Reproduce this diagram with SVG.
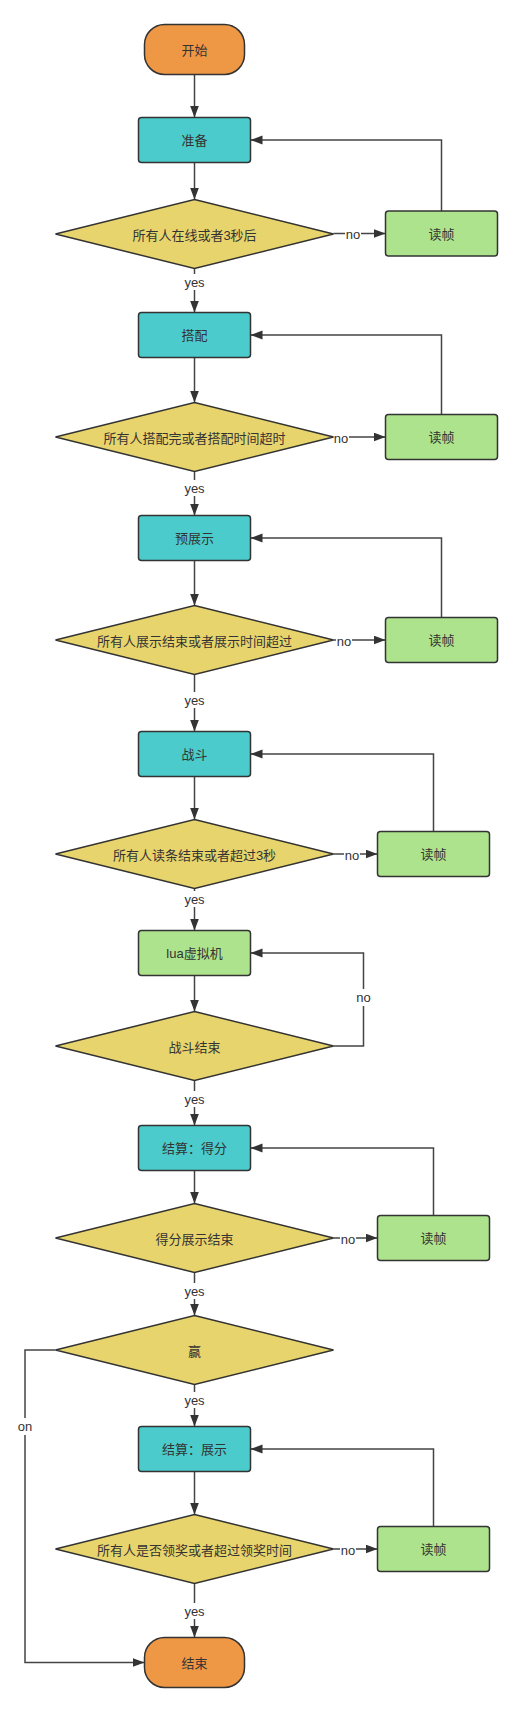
<svg xmlns="http://www.w3.org/2000/svg" width="522" height="1713" viewBox="0 0 522 1713">
<style>
text{font-family:"Liberation Sans","Noto Sans CJK SC",sans-serif;font-size:13px;fill:#333;text-anchor:middle;dominant-baseline:central}
.term{fill:#EE9845;stroke:#333;stroke-width:1.5}
.proc{fill:#4BCBCB;stroke:#333;stroke-width:1.5}
.lua{fill:#ADE38C;stroke:#333;stroke-width:1.5}
.dec{fill:#E8D46C;stroke:#333;stroke-width:1.5}
.read{fill:#ADE38C;stroke:#333;stroke-width:1.5}
.edge{fill:none;stroke:#444;stroke-width:1.5}
.lbg{fill:#fff;stroke:none}
</style>
<defs>
<marker id="arr" markerUnits="userSpaceOnUse" markerWidth="12" markerHeight="10" refX="12" refY="4.5" orient="auto">
<path d="M0,0 L12,4.5 L0,9 z" fill="#333"/>
</marker>
</defs>
<rect width="522" height="1713" fill="#fff"/>
<g id="connectors">
<path class="edge" marker-end="url(#arr)" d="M194.5,74.5 V117.5"/>
<path class="edge" marker-end="url(#arr)" d="M194.5,162.5 V199.5"/>
<path class="edge" marker-end="url(#arr)" d="M194.5,268.5 V312.5"/>
<path class="edge" marker-end="url(#arr)" d="M333.5,233.5 H385.5"/>
<path class="edge" marker-end="url(#arr)" d="M441.5,211 V140 H250.5"/>
<path class="edge" marker-end="url(#arr)" d="M194.5,357.5 V402.5"/>
<path class="edge" marker-end="url(#arr)" d="M333.5,437 H385.5"/>
<path class="edge" marker-end="url(#arr)" d="M441.5,414.5 V335 H250.5"/>
<path class="edge" marker-end="url(#arr)" d="M194.5,471.5 V515.5"/>
<path class="edge" marker-end="url(#arr)" d="M194.5,560.5 V605.5"/>
<path class="edge" marker-end="url(#arr)" d="M333.5,640 H385.5"/>
<path class="edge" marker-end="url(#arr)" d="M441.5,617.5 V538 H250.5"/>
<path class="edge" marker-end="url(#arr)" d="M194.5,674.5 V731.5"/>
<path class="edge" marker-end="url(#arr)" d="M194.5,776.5 V819.5"/>
<path class="edge" marker-end="url(#arr)" d="M333.5,854 H377.5"/>
<path class="edge" marker-end="url(#arr)" d="M433.5,831.5 V754 H250.5"/>
<path class="edge" marker-end="url(#arr)" d="M194.5,888.5 V930.5"/>
<path class="edge" marker-end="url(#arr)" d="M194.5,975.5 V1011.5"/>
<path class="edge" marker-end="url(#arr)" d="M333.5,1046 H363.5 V953 H250.5"/>
<path class="edge" marker-end="url(#arr)" d="M194.5,1080.5 V1125.5"/>
<path class="edge" marker-end="url(#arr)" d="M194.5,1170.5 V1203.5"/>
<path class="edge" marker-end="url(#arr)" d="M333.5,1238 H377.5"/>
<path class="edge" marker-end="url(#arr)" d="M433.5,1215.5 V1148 H250.5"/>
<path class="edge" marker-end="url(#arr)" d="M194.5,1272.5 V1315.5"/>
<path class="edge" marker-end="url(#arr)" d="M194.5,1384.5 V1426.5"/>
<path class="edge" marker-end="url(#arr)" d="M55.5,1350 H25 V1662.5 H144.5"/>
<path class="edge" marker-end="url(#arr)" d="M194.5,1471.5 V1514.5"/>
<path class="edge" marker-end="url(#arr)" d="M333.5,1549 H377.5"/>
<path class="edge" marker-end="url(#arr)" d="M433.5,1526.5 V1449 H250.5"/>
<path class="edge" marker-end="url(#arr)" d="M194.5,1583.5 V1637.5"/>
<g id="edge-labels">
<rect class="lbg" x="182" y="274" width="25" height="16"/><text x="194.5" y="282">yes</text>
<rect class="lbg" x="182" y="480" width="25" height="16"/><text x="194.5" y="488">yes</text>
<rect class="lbg" x="182" y="692" width="25" height="16"/><text x="194.5" y="700">yes</text>
<rect class="lbg" x="182" y="891" width="25" height="16"/><text x="194.5" y="899">yes</text>
<rect class="lbg" x="182" y="1091" width="25" height="16"/><text x="194.5" y="1099">yes</text>
<rect class="lbg" x="182" y="1283" width="25" height="16"/><text x="194.5" y="1291">yes</text>
<rect class="lbg" x="182" y="1392" width="25" height="16"/><text x="194.5" y="1400">yes</text>
<rect class="lbg" x="182" y="1603" width="25" height="16"/><text x="194.5" y="1611">yes</text>
<rect class="lbg" x="345" y="226" width="16" height="16"/><text x="353" y="234.5">no</text>
<rect class="lbg" x="333" y="429" width="16" height="16"/><text x="341" y="438">no</text>
<rect class="lbg" x="336" y="633" width="16" height="16"/><text x="344" y="641">no</text>
<rect class="lbg" x="344" y="847" width="16" height="16"/><text x="352" y="855">no</text>
<rect class="lbg" x="355" y="989" width="17" height="17"/><text x="363.5" y="997.5">no</text>
<rect class="lbg" x="340" y="1231" width="16" height="16"/><text x="348" y="1239.5">no</text>
<rect class="lbg" x="340" y="1542" width="16" height="16"/><text x="348" y="1550.5">no</text>
<rect class="lbg" x="16" y="1418" width="18" height="17"/><text x="25" y="1426.5">on</text>
</g>
</g>
<g id="start"><rect class="term" x="144.5" y="24.5" width="100" height="50" rx="20"/><text x="194.5" y="50">开始</text></g>
<g id="prepare"><rect class="proc" x="138.5" y="117.5" width="112" height="45" rx="3"/><text x="194.5" y="140.5">准备</text></g>
<g id="d-online"><polygon class="dec" points="194.5,199.5 333.5,234 194.5,268.5 55.5,234"/><text x="194.5" y="235">所有人在线或者3秒后</text></g>
<g id="read1"><rect class="read" x="385.5" y="211" width="112" height="45" rx="3"/><text x="441.5" y="234">读帧</text></g>
<g id="match"><rect class="proc" x="138.5" y="312.5" width="112" height="45" rx="3"/><text x="194.5" y="335.5">搭配</text></g>
<g id="d-match"><polygon class="dec" points="194.5,402.5 333.5,437 194.5,471.5 55.5,437"/><text x="194.5" y="438">所有人搭配完或者搭配时间超时</text></g>
<g id="read2"><rect class="read" x="385.5" y="414.5" width="112" height="45" rx="3"/><text x="441.5" y="437.5">读帧</text></g>
<g id="preview"><rect class="proc" x="138.5" y="515.5" width="112" height="45" rx="3"/><text x="194.5" y="538.5">预展示</text></g>
<g id="d-preview"><polygon class="dec" points="194.5,605.5 333.5,640 194.5,674.5 55.5,640"/><text x="194.5" y="641">所有人展示结束或者展示时间超过</text></g>
<g id="read3"><rect class="read" x="385.5" y="617.5" width="112" height="45" rx="3"/><text x="441.5" y="640.5">读帧</text></g>
<g id="battle"><rect class="proc" x="138.5" y="731.5" width="112" height="45" rx="3"/><text x="194.5" y="754.5">战斗</text></g>
<g id="d-load"><polygon class="dec" points="194.5,819.5 333.5,854 194.5,888.5 55.5,854"/><text x="194.5" y="855">所有人读条结束或者超过3秒</text></g>
<g id="read4"><rect class="read" x="377.5" y="831.5" width="112" height="45" rx="3"/><text x="433.5" y="854.5">读帧</text></g>
<g id="lua"><rect class="lua" x="138.5" y="930.5" width="112" height="45" rx="3"/><text x="194.5" y="953.5">lua虚拟机</text></g>
<g id="d-battle-end"><polygon class="dec" points="194.5,1011.5 333.5,1046 194.5,1080.5 55.5,1046"/><text x="194.5" y="1047">战斗结束</text></g>
<g id="settle-score"><rect class="proc" x="138.5" y="1125.5" width="112" height="45" rx="3"/><text x="194.5" y="1148.5">结算：得分</text></g>
<g id="d-score"><polygon class="dec" points="194.5,1203.5 333.5,1238 194.5,1272.5 55.5,1238"/><text x="194.5" y="1239">得分展示结束</text></g>
<g id="read6"><rect class="read" x="377.5" y="1215.5" width="112" height="45" rx="3"/><text x="433.5" y="1238.5">读帧</text></g>
<g id="d-win"><polygon class="dec" points="194.5,1315.5 333.5,1350 194.5,1384.5 55.5,1350"/><text x="194.5" y="1351">赢</text></g>
<g id="settle-show"><rect class="proc" x="138.5" y="1426.5" width="112" height="45" rx="3"/><text x="194.5" y="1449.5">结算：展示</text></g>
<g id="d-reward"><polygon class="dec" points="194.5,1514.5 333.5,1549 194.5,1583.5 55.5,1549"/><text x="194.5" y="1550">所有人是否领奖或者超过领奖时间</text></g>
<g id="read8"><rect class="read" x="377.5" y="1526.5" width="112" height="45" rx="3"/><text x="433.5" y="1549.5">读帧</text></g>
<g id="end"><rect class="term" x="144.5" y="1637.5" width="100" height="50" rx="20"/><text x="194.5" y="1663">结束</text></g>
</svg>
